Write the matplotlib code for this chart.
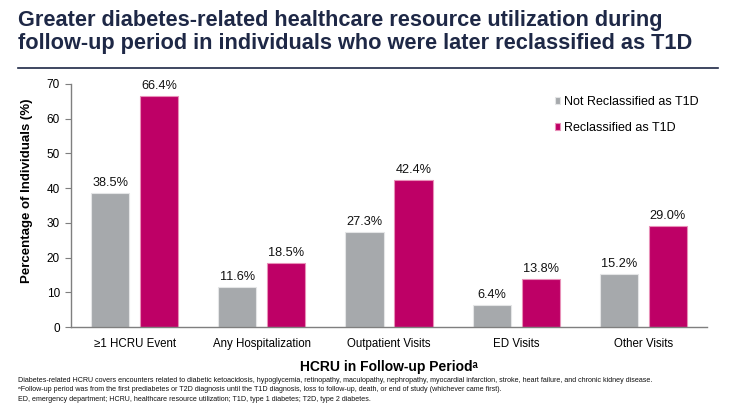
import numpy as np
import matplotlib.pyplot as plt

categories = ["\u22651 HCRU Event", "Any Hospitalization", "Outpatient Visits", "ED Visits", "Other Visits"]
not_reclassified = [38.5, 11.6, 27.3, 6.4, 15.2]
reclassified = [66.4, 18.5, 42.4, 13.8, 29.0]
series_labels = ["Not Reclassified as T1D", "Reclassified as T1D"]

title = ("Greater diabetes-related healthcare resource utilization during\n"
         "follow-up period in individuals who were later reclassified as T1D")
footnotes = [
    "Diabetes-related HCRU covers encounters related to diabetic ketoacidosis, hypoglycemia, retinopathy, maculopathy, nephropathy, myocardial infarction, stroke, heart failure, and chronic kidney disease.",
    "\u1d43Follow-up period was from the first prediabetes or T2D diagnosis until the T1D diagnosis, loss to follow-up, death, or end of study (whichever came first).",
    "ED, emergency department; HCRU, healthcare resource utilization; T1D, type 1 diabetes; T2D, type 2 diabetes.",
]

gray = "#A6A9AC"
magenta = "#BE0066"
navy = "#1E2846"

plt.rcParams['font.family'] = ['Liberation Sans', 'DejaVu Sans']

fig = plt.figure(figsize=(7.34, 4.08), dpi=100)
ax = fig.add_axes([71/734, 1 - 327/408, (707-71)/734, (327-84)/408])

x = np.arange(len(categories)) + 0.5
w = 0.30
off = 0.193
b1 = ax.bar(x - off, not_reclassified, w, color=gray, edgecolor="#E4E5E6", linewidth=0.8, label=series_labels[0])
b2 = ax.bar(x + off, reclassified, w, color=magenta, edgecolor="#E890B8", linewidth=0.8, label=series_labels[1])

for bars, vals in [(b1, not_reclassified), (b2, reclassified)]:
    for rect, v in zip(bars, vals):
        ax.text(rect.get_x() + rect.get_width()/2, v + 1.2, f"{v:.1f}%",
                ha="center", va="bottom", fontsize=9.2, color="#111111")

ax.set_xlim(0, len(categories))
ax.set_ylim(0, 70)
ax.set_yticks(range(0, 71, 10))
ax.set_xticks(x)
ax.set_xticklabels(categories, fontsize=8.3)
ax.tick_params(axis="x", length=0, pad=8)
ax.tick_params(axis="y", labelsize=8.5, length=4, color="#7F7F7F", pad=4)
for s in ["top", "right"]:
    ax.spines[s].set_visible(False)
for s in ["left", "bottom"]:
    ax.spines[s].set_color("#7F7F7F")
    ax.spines[s].set_linewidth(1.0)

ax.set_ylabel("Percentage of Individuals (%)", fontsize=9.5, fontweight="bold")
ax.yaxis.set_label_coords(-0.06, 0.56)
ax.set_xlabel("HCRU in Follow-up Period\u1d43", fontsize=10, fontweight="bold", labelpad=7)

leg = ax.legend(loc="upper left", bbox_to_anchor=(0.743, 0.997), frameon=False, fontsize=9,
                handlelength=0.45, handleheight=0.45, handletextpad=0.3, labelspacing=1.1)

fig.text(18/734, 1 - 10/408, title, ha="left", va="top", fontsize=15.7, fontweight="bold",
         color=navy, linespacing=1.12)
fig.add_artist(plt.Line2D([18/734, 718/734], [1 - 68/408, 1 - 68/408], color=navy, linewidth=1.2))

for i, t in enumerate(footnotes):
    fig.text(18/734, 1 - (380 + i*9.7)/408, t, ha="left", va="center", fontsize=5.1, color="#111111")

fig.savefig("out.png", dpi=100)
